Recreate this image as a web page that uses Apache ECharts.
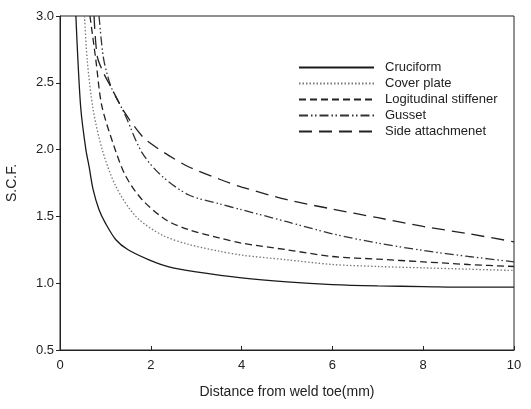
<!DOCTYPE html>
<html>
<head>
<meta charset="utf-8">
<script src="https://cdn.jsdelivr.net/npm/echarts@6/dist/echarts.min.js"></script>
<style>
html,body{margin:0;padding:0;background:#fff;}
#c{width:531px;height:409px;}
</style>
</head>
<body>
<div id="c"></div>
<script>
// Data: [distance (mm), S.C.F.]
const seriesNames = ['Cruciform', 'Cover plate', 'Logitudinal stiffener', 'Gusset', 'Side attachmenet'];
const cruciform = [[0.35,3.0],[0.39,2.7],[0.46,2.3],[0.57,2.0],[0.64,1.875],[0.73,1.70],[0.86,1.55],[1.0,1.45],[1.23,1.325],[1.5,1.25],[1.96,1.175],[2.42,1.12],[3,1.085],[4,1.04],[5,1.01],[6,0.99],[7,0.98],[8,0.975],[9,0.97],[10,0.97]];
const coverPlate = [[0.54,3.0],[0.60,2.67],[0.73,2.3],[0.93,2.0],[1.23,1.725],[1.67,1.50],[2.25,1.36],[2.84,1.29],[3.5,1.24],[4,1.21],[5,1.175],[6,1.14],[7,1.125],[8,1.115],[9,1.105],[10,1.095]];
const longStiffener = [[0.66,3.0],[0.79,2.67],[0.92,2.33],[1.19,2.025],[1.45,1.80],[1.81,1.625],[2.33,1.475],[2.84,1.40],[3.5,1.34],[4,1.30],[5,1.25],[6,1.20],[7,1.18],[8,1.16],[9,1.14],[10,1.125]];
const gusset = [[0.86,3.0],[0.95,2.7],[1.05,2.55],[1.15,2.45],[1.42,2.27],[1.81,1.975],[2.25,1.80],[2.84,1.66],[3.5,1.595],[4,1.55],[5,1.46],[6,1.37],[7,1.30],[8,1.245],[9,1.20],[10,1.16]];
const sideAttachment = [[0.75,3.0],[0.82,2.7],[0.95,2.58],[1.12,2.47],[1.42,2.28],[1.81,2.10],[2.0,2.045],[2.4,1.955],[2.84,1.87],[3.5,1.78],[4,1.72],[5,1.625],[6,1.555],[7,1.49],[8,1.425],[9,1.37],[10,1.31]];
const xTicks = [0, 2, 4, 6, 8, 10];
const yTicks = [0.5, 1.0, 1.5, 2.0, 2.5, 3.0];

const allData = [cruciform, coverPlate, longStiffener, gusset, sideAttachment];
const dashTypes = ['solid', [1.5, 2], [7, 4], [9, 3, 1.5, 2.5, 1.5, 3], [13, 7]];
const colors = ['#1a1a1a', '#777', '#222', '#333', '#222'];

const chart = echarts.init(document.getElementById('c'), null, {renderer: 'canvas'});
const font = '"Liberation Sans", Arial, sans-serif';
chart.setOption({
  animation: false,
  backgroundColor: '#fff',
  grid: {left: 60, right: 17, top: 16, bottom: 59, containLabel: false, outerBoundsMode: 'none',
         show: true, borderColor: '#222', borderWidth: 1, backgroundColor: 'transparent'},
  legend: {
    orient: 'vertical',
    left: 293,
    top: 56,
    itemWidth: 75,
    itemHeight: 10,
    itemGap: 3,
    data: seriesNames,
    itemStyle: {opacity: 0},
    textStyle: {fontFamily: font, fontSize: 13, color: '#222', padding: [0, 0, 0, 6]},
  },
  xAxis: {
    type: 'value', min: xTicks[0], max: xTicks[xTicks.length - 1], interval: 2,
    name: 'Distance from weld toe(mm)', nameLocation: 'middle', nameGap: 35,
    nameTextStyle: {fontFamily: font, fontSize: 14, color: '#222'},
    axisLine: {show: true, lineStyle: {color: '#222', width: 1}},
    axisTick: {show: true, inside: true, length: 4, lineStyle: {color: '#222'}},
    axisLabel: {fontFamily: font, fontSize: 13, color: '#222', margin: 9},
    splitLine: {show: false}
  },
  yAxis: {
    type: 'value', min: yTicks[0], max: yTicks[yTicks.length - 1], interval: 0.5,
    name: 'S.C.F.', nameLocation: 'middle', nameGap: 41, nameRotate: 90,
    nameTextStyle: {fontFamily: font, fontSize: 14, color: '#222'},
    axisLine: {show: true, lineStyle: {color: '#222', width: 1}},
    axisTick: {show: true, inside: false, length: 4, lineStyle: {color: '#222'}},
    axisLabel: {fontFamily: font, fontSize: 13, color: '#222', margin: 6, formatter: v => v.toFixed(1)},
    splitLine: {show: false}
  },
  series: seriesNames.map((n, i) => ({
    name: n,
    type: 'line',
    data: allData[i],
    symbol: 'none',
    smooth: 0.3,
    clip: true,
    lineStyle: {color: colors[i], width: 1.3, type: dashTypes[i]},
    itemStyle: {color: colors[i]}
  }))
});
</script>
</body>
</html>
